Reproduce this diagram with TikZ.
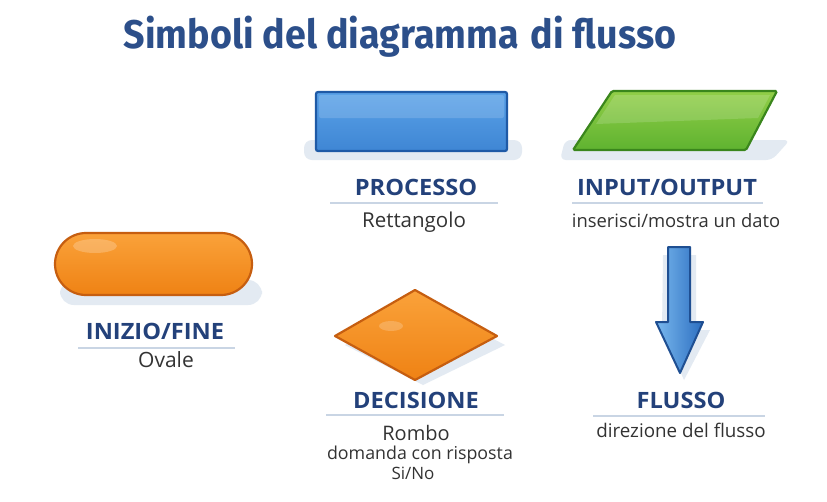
\documentclass[tikz,border=0pt]{standalone}
\usepackage{fontspec}
\setmainfont{Open Sans}
\newfontfamily\titlefont{Fira Sans}
\usetikzlibrary{shapes.geometric}
\definecolor{titleblue}{HTML}{2C4F8A}
\definecolor{labelblue}{HTML}{23417A}
\definecolor{subgrey}{HTML}{333333}
\definecolor{sepline}{HTML}{C9D5E4}
\definecolor{shadowc}{HTML}{DCE5EF}
\definecolor{rectborder}{HTML}{1F5AA6}
\definecolor{recttop}{HTML}{5AA2E8}
\definecolor{rectbot}{HTML}{3F86D4}
\definecolor{grborder}{HTML}{3A861C}
\definecolor{grtop}{HTML}{92CE48}
\definecolor{grbot}{HTML}{5FB330}
\definecolor{orborder}{HTML}{C65E10}
\definecolor{ortop}{HTML}{FAA23A}
\definecolor{orbot}{HTML}{EF8214}
\definecolor{arborder}{HTML}{1F4F92}
\definecolor{arleft}{HTML}{79B8EE}
\definecolor{arright}{HTML}{2C6EC0}
\tikzset{
  heading/.style={font=\fontsize{22.5}{26}\selectfont\bfseries, text=labelblue, anchor=base, inner sep=0pt},
  subtext/.style={text=subgrey, anchor=base, inner sep=0pt},
  sep/.style={draw=sepline, line width=1.2pt},
  shade/.style={fill=shadowc, opacity=0.8},
  gloss/.style={fill=white, opacity=0.15}
}
\newcommand{\wide}[1]{\scalebox{1.05}[1]{#1}}
\begin{document}
\begin{tikzpicture}[x=1pt,y=-1pt]
\useasboundingbox[fill=white] (0,0) rectangle (827,501);

% title
\node[font=\titlefont\fontsize{40}{44}\selectfont\bfseries, text=titleblue, anchor=base, inner sep=0pt] (title) at (400,48)
  {\scalebox{0.94}[1]{Simboli del diagramma\hspace{0.32em}di flusso}};

% ---------- PROCESSO rectangle
\fill[shade, rounded corners=8pt] (304,140) rectangle (522,160);
\path[draw=rectborder, line width=2.2pt, top color=recttop, bottom color=rectbot, rounded corners=2pt]
  (316,92) rectangle (507,151);
\fill[gloss, rounded corners=2pt] (319,95) rectangle (504,118);
\node[heading] (proc) at (416,195) {\wide{PROCESSO}};
\draw[sep] (330,203) -- (498,203);
\node[subtext, font=\fontsize{20.5}{24}\selectfont] (rett) at (414,227) {Rettangolo};

% ---------- INPUT/OUTPUT parallelogram
\fill[shade, rounded corners=6pt] (565,140) -- (790,140) -- (772,160) -- (560,160) -- cycle;
\path[draw=grborder, line width=2.2pt, top color=grtop, bottom color=grbot, rounded corners=1.5pt]
  (612,91) -- (777,91) -- (746,150) -- (573,150) -- cycle;
\fill[white, opacity=0.15] (615,95) -- (770,95) -- (758,118) -- (596,124) -- cycle;
\node[heading] (io) at (667,195) {\wide{INPUT/OUTPUT}};
\draw[sep] (572,203) -- (763,203);
\node[subtext, font=\fontsize{18.4}{22}\selectfont] (iosub) at (676,227) {inserisci/mostra un dato};

% ---------- INIZIO/FINE oval
\fill[shade, rounded corners=14pt] (60,280) rectangle (262,305);
\path[draw=orborder, line width=2.2pt, top color=ortop, bottom color=orbot, rounded corners=31pt]
  (55,233) rectangle (252,295);
\fill[white, opacity=0.22] (95,246) ellipse (22pt and 7pt);
\node[heading] (ini) at (155,339) {\wide{INIZIO/FINE}};
\draw[sep] (78,348) -- (235,348);
\node[subtext, font=\fontsize{21}{24}\selectfont] (ovale) at (166,367) {Ovale};

% ---------- DECISIONE diamond
\fill[shade] (345,345) -- (423,302) -- (505,345) -- (423,385) -- cycle;
\path[draw=orborder, line width=2.2pt, top color=ortop, bottom color=orbot, line join=round]
  (415,290) -- (497,336) -- (415,380) -- (335,336) -- cycle;
\fill[white, opacity=0.2] (391,326) ellipse (12pt and 5pt);
\node[heading] (dec) at (416,408) {\wide{DECISIONE}};
\draw[sep] (326,415) -- (504,415);
\node[subtext, font=\fontsize{20}{24}\selectfont] (rombo) at (416,440) {Rombo};
\node[subtext, font=\fontsize{17.8}{21}\selectfont] (dom) at (420,459) {domanda con risposta};
\node[subtext, font=\fontsize{17}{21}\selectfont] (sino) at (413,479) {Si/No};

% ---------- FLUSSO arrow
\fill[shade] (663,255) -- (696,255) -- (696,330) -- (710,330) -- (684,380) -- (662,330) -- cycle;
\path[draw=arborder, line width=2pt, left color=arleft, right color=arright, line join=round]
  (668,247) -- (690,247) -- (690,322) -- (703,322) -- (680,373) -- (656,322) -- (668,322) -- cycle;
\node[heading] (flu) at (681,408) {\wide{FLUSSO}};
\draw[sep] (593,416) -- (765,416);
\node[subtext, font=\fontsize{18.8}{22}\selectfont] (flusub) at (681,437) {direzione del flusso};
\end{tikzpicture}
\end{document}
